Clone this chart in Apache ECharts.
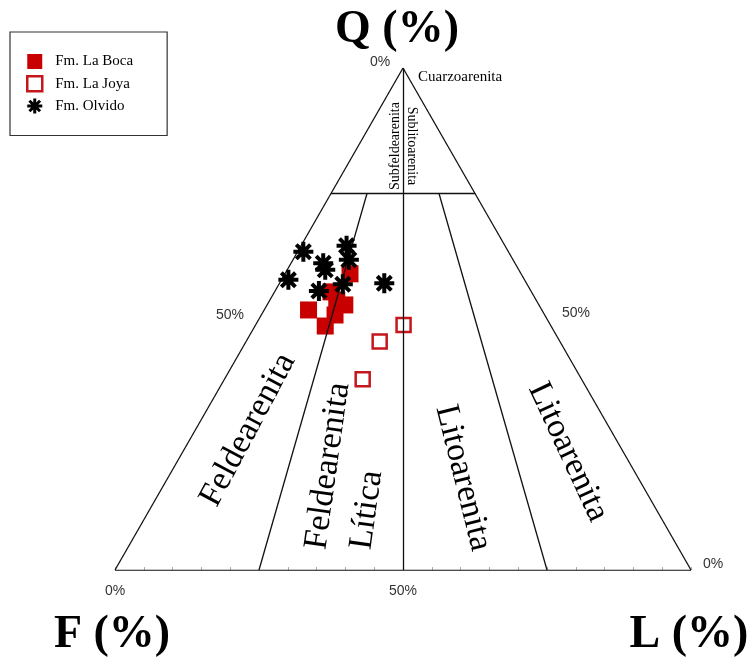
<!DOCTYPE html>
<html><head><meta charset="utf-8">
<script src="https://cdn.jsdelivr.net/npm/echarts@6/dist/echarts.min.js"></script>
<style>html,body{margin:0;padding:0;background:#fff}#c{width:752px;height:660px}</style>
</head><body><div id="c"></div>
<script>
// Composition data: [Q, F, L] in %
const laBoca = [[59.0,29.7,11.3],[51.8,40.5,7.7],[48.6,39.2,12.2],[53.8,34.6,11.6],[52.8,33.7,13.5],[50.8,36.4,12.8],[55.4,34.8,9.8]];
const laJoya = [[48.8,25.5,25.7],[45.5,31.3,23.2],[38.0,38.0,24.0]];
const olvido = [[63.4,35.6,1.0],[64.6,27.5,7.9],[57.8,41.0,1.2],[61.1,33.3,5.6],[59.8,33.6,6.6],[61.8,28.5,9.7],[55.6,36.8,7.6],[56.9,32.0,11.1],[57.1,24.7,18.2]];
const seriesNames = ['Fm. La Boca','Fm. La Joya','Fm. Olvido'];
// Field boundaries (Folk), as ternary end points [Q,F,L]
const fieldBoundaries = [
  [[100,0,0],[0,100,0]],
  [[0,100,0],[0,0,100]],
  [[0,0,100],[100,0,0]],
  [[75,25,0],[75,0,25]],
  [[100,0,0],[0,50,50]],
  [[75,18.75,6.25],[0,75,25]],
  [[75,6.25,18.75],[0,25,75]]
];
const baseTickLabels = {'0':'0%','50':'50%'};

function toXY(p){ const q=p[0], l=p[2]; return [(l + q/2)/100, q/100]; }

function asteriskPath(){
  const w=0.2, parts=[];
  [0,45,90,135].forEach(a=>{
    const r=a*Math.PI/180, c=Math.cos(r), s=Math.sin(r);
    const pts=[[-1,-w],[1,-w],[1,w],[-1,w]].map(([x,y])=>[10+10*(x*c-y*s),10+10*(x*s+y*c)]);
    parts.push('M'+pts.map(p=>p[0].toFixed(2)+' '+p[1].toFixed(2)).join(' L')+' Z');
  });
  return 'path://'+parts.join(' ');
}
const AST = asteriskPath();
const SERIF = '"Liberation Serif", "Times New Roman", serif';
const SANS = '"Liberation Sans", Arial, sans-serif';
const deg = d => d*Math.PI/180;

function txt(text, x, y, font, opts){
  opts = opts || {};
  return {type:'text', x:x, y:y, rotation: opts.rot ? deg(opts.rot) : 0, silent:true,
    style:{text:text, font:font, fill: opts.fill || '#000',
      align: opts.align || 'center', textAlign: opts.align || 'center',
      verticalAlign:'middle', textVerticalAlign:'middle'}};
}

const chart = echarts.init(document.getElementById('c'), null, {renderer:'canvas'});
chart.setOption({
  animation:false,
  backgroundColor:'#fff',
  grid:{left:115, top:68, width:576, height:502},
  xAxis:{type:'value', min:0, max:1, interval:0.05,
    axisLine:{show:false},
    axisTick:{show:true, inside:true, length:3, lineStyle:{color:'#aaa', width:1}},
    splitLine:{show:false},
    axisLabel:{margin:14, fontFamily:SANS, fontSize:14, color:'#333',
      formatter: v => { const k = String(Math.round(v*100)); return baseTickLabels[k] || ''; }}},
  yAxis:{type:'value', min:0, max:1, show:false},
  legend:{orient:'vertical', left:10, top:32, padding:[22,34,22,16], itemGap:6,
    itemWidth:15, itemHeight:15, borderColor:'#333', borderWidth:1.2, borderRadius:0,
    textStyle:{fontFamily:SERIF, fontSize:15, color:'#000', padding:[0,0,0,8]},
    data:[
      {name:seriesNames[0], icon:'rect', itemStyle:{color:'#c80000'}},
      {name:seriesNames[1], icon:'rect', itemStyle:{color:'#fff', borderColor:'#c4161c', borderWidth:2.5}},
      {name:seriesNames[2], icon:AST, itemStyle:{color:'#000'}}
    ]},
  series:[
    {type:'lines', coordinateSystem:'cartesian2d', silent:true, z:3,
      lineStyle:{color:'#111', width:1.3, opacity:1},
      data: fieldBoundaries.map(s=>({coords:s.map(toXY)}))},
    {name:seriesNames[0], type:'scatter', symbol:'rect', symbolSize:17, z:2,
      itemStyle:{color:'#c80000', opacity:1}, data: laBoca.map(toXY)},
    {name:seriesNames[1], type:'scatter', symbol:'rect', symbolSize:14, z:2,
      itemStyle:{color:'#fff', borderColor:'#c4161c', borderWidth:2.5, opacity:1}, data: laJoya.map(toXY)},
    {name:seriesNames[2], type:'scatter', symbol:AST, symbolSize:20, z:4,
      itemStyle:{color:'#000', opacity:1}, data: olvido.map(toXY)}
  ],
  graphic:[
    txt('Q (%)', 397, 30, 'bold 46px '+SERIF),
    txt('F (%)', 112, 635, 'bold 46px '+SERIF),
    txt('L (%)', 689, 635, 'bold 46px '+SERIF),
    txt('0%', 380, 62, '14px '+SANS, {fill:'#333'}),
    txt('50%', 230, 315, '14px '+SANS, {fill:'#333'}),
    txt('50%', 576, 313, '14px '+SANS, {fill:'#333'}),
    txt('0%', 713, 564, '14px '+SANS, {fill:'#333'}),
    txt('Cuarzoarenita', 418, 77, '15px '+SERIF, {align:'left'}),
    txt('Subfeldearenita', 395, 146, '14px '+SERIF, {rot:90}),
    txt('Sublitoarenita', 412, 146, '14px '+SERIF, {rot:-90}),
    txt('Feldearenita', 248, 430, '34px '+SERIF, {rot:62}),
    txt('Feldearenita', 328, 466, '34px '+SERIF, {rot:82}),
    txt('Lítica', 367, 510, '34px '+SERIF, {rot:82}),
    txt('Litoarenita', 463, 478, '34px '+SERIF, {rot:-76}),
    txt('Litoarenita', 568, 452, '34px '+SERIF, {rot:-65})
  ]
});
</script></body></html>
